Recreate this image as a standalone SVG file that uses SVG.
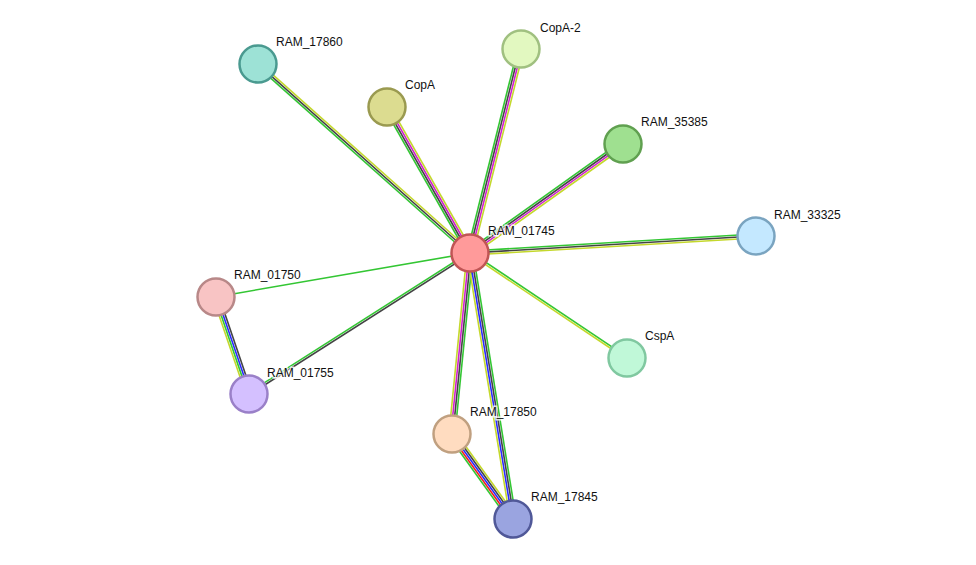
<svg xmlns="http://www.w3.org/2000/svg" width="976" height="565" viewBox="0 0 976 565">
<style>
line{stroke-width:1.6}
.g{stroke:#33c633}.k{stroke:#444}.m{stroke:#d020d0}.y{stroke:#c4d82c}.b{stroke:#2a2aff}.r{stroke:#f02020}
circle{stroke-width:2.5}
text{font-family:"Liberation Sans",Arial,sans-serif;font-size:12px;fill:#111;paint-order:stroke;stroke:#fff;stroke-width:3px;stroke-opacity:0.8}
</style>
<rect width="976" height="565" fill="#fff"/>
<g id="connectors">
<g transform="translate(470,253) rotate(-138.3)"><line class="g" x1="0" x2="284" y1="-2" y2="-2"/><line class="k" x1="0" x2="284" y1="0" y2="0"/><line class="y" x1="0" x2="284" y1="2" y2="2"/></g>
<g transform="translate(470,253) rotate(-119.6)"><line class="g" x1="0" x2="168" y1="-3" y2="-3"/><line class="k" x1="0" x2="168" y1="-1" y2="-1"/><line class="m" x1="0" x2="168" y1="1" y2="1"/><line class="y" x1="0" x2="168" y1="3" y2="3"/></g>
<g transform="translate(470,253) rotate(-76)"><line class="g" x1="0" x2="210" y1="-3" y2="-3"/><line class="k" x1="0" x2="210" y1="-1" y2="-1"/><line class="m" x1="0" x2="210" y1="1" y2="1"/><line class="y" x1="0" x2="210" y1="3" y2="3"/></g>
<g transform="translate(470,253) rotate(-35.5)"><line class="g" x1="0" x2="188" y1="-3" y2="-3"/><line class="k" x1="0" x2="188" y1="-1" y2="-1"/><line class="m" x1="0" x2="188" y1="1" y2="1"/><line class="y" x1="0" x2="188" y1="3" y2="3"/></g>
<g transform="translate(470,253) rotate(-3.4)"><line class="g" x1="0" x2="286" y1="-2" y2="-2"/><line class="k" x1="0" x2="286" y1="0" y2="0"/><line class="y" x1="0" x2="286" y1="2" y2="2"/></g>
<g transform="translate(470,253) rotate(33.8)"><line class="g" x1="0" x2="189" y1="-1" y2="-1"/><line class="y" x1="0" x2="189" y1="1" y2="1"/></g>
<g transform="translate(470,253) rotate(170.2)"><line class="g" x1="0" x2="258" y1="0" y2="0"/></g>
<g transform="translate(470,253) rotate(147.5)"><line class="k" x1="0" x2="262" y1="-1" y2="-1"/><line class="g" x1="0" x2="262" y1="1" y2="1"/></g>
<g transform="translate(470,253) rotate(95.7)"><line class="g" x1="0" x2="182" y1="-3" y2="-3"/><line class="k" x1="0" x2="182" y1="-1" y2="-1"/><line class="m" x1="0" x2="182" y1="1" y2="1"/><line class="y" x1="0" x2="182" y1="3" y2="3"/></g>
<g transform="translate(470,253) rotate(80.8)"><line class="g" x1="0" x2="269" y1="-3" y2="-3"/><line class="k" x1="0" x2="269" y1="-1" y2="-1"/><line class="b" x1="0" x2="269" y1="1" y2="1"/><line class="y" x1="0" x2="269" y1="3" y2="3"/></g>
<g transform="translate(216,297) rotate(71.2)"><line class="k" x1="0" x2="102" y1="-3" y2="-3"/><line class="b" x1="0" x2="102" y1="-1" y2="-1"/><line class="g" x1="0" x2="102" y1="1" y2="1"/><line class="y" x1="0" x2="102" y1="3" y2="3"/></g>
<g transform="translate(452,434) rotate(54.3)"><line class="y" x1="0" x2="104" y1="-4" y2="-4"/><line class="k" x1="0" x2="104" y1="-2" y2="-2"/><line class="b" x1="0" x2="104" y1="0" y2="0"/><line class="r" x1="0" x2="104" y1="2" y2="2"/><line class="g" x1="0" x2="104" y1="4" y2="4"/></g>
</g>
<g id="RAM_01745"><circle cx="470" cy="253" r="18.5" fill="#ff9a9a" stroke="#c05555"/><text x="488" y="235">RAM_01745</text></g>
<g id="RAM_17860"><circle cx="258" cy="64" r="18.5" fill="#9de2d6" stroke="#4a9a90"/><text x="276" y="46">RAM_17860</text></g>
<g id="CopA"><circle cx="387" cy="107" r="18.5" fill="#dcdc90" stroke="#9a9a50"/><text x="405" y="89">CopA</text></g>
<g id="CopA-2"><circle cx="521" cy="49" r="18.5" fill="#e2f8c0" stroke="#a0c080"/><text x="540" y="32">CopA-2</text></g>
<g id="RAM_35385"><circle cx="623" cy="144" r="18.5" fill="#9fe090" stroke="#60a050"/><text x="641" y="126">RAM_35385</text></g>
<g id="RAM_33325"><circle cx="756" cy="236" r="18.5" fill="#c4e8ff" stroke="#7aa4c0"/><text x="774" y="219">RAM_33325</text></g>
<g id="CspA"><circle cx="627" cy="358" r="18.5" fill="#c0f8d8" stroke="#80c8a0"/><text x="645" y="340">CspA</text></g>
<g id="RAM_01750"><circle cx="216" cy="297" r="18.5" fill="#f8c4c4" stroke="#b88888"/><text x="234" y="279">RAM_01750</text></g>
<g id="RAM_01755"><circle cx="249" cy="394" r="18.5" fill="#d4c0ff" stroke="#9a80c8"/><text x="267" y="377">RAM_01755</text></g>
<g id="RAM_17850"><circle cx="452" cy="434" r="18.5" fill="#ffdcc0" stroke="#c0a080"/><text x="470" y="416">RAM_17850</text></g>
<g id="RAM_17845"><circle cx="513" cy="519" r="18.5" fill="#9aa4e0" stroke="#505898"/><text x="531" y="501">RAM_17845</text></g>
</svg>
